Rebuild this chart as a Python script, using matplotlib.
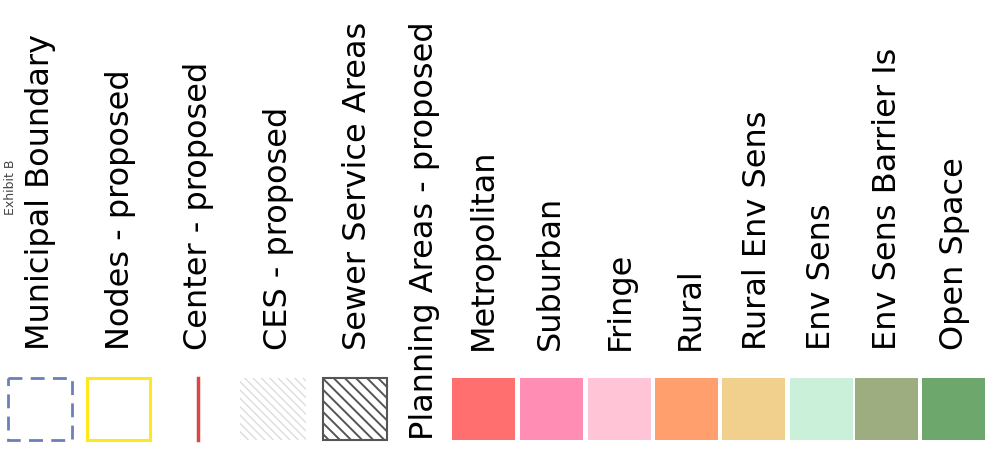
import matplotlib.pyplot as plt
from matplotlib.patches import Rectangle

# legend entries (rotated legend of a planning map)
line_labels = ['Municipal Boundary', 'Nodes - proposed', 'Center - proposed',
               'CES - proposed', 'Sewer Service Areas']
area_title = 'Planning Areas - proposed'
area_labels = ['Metropolitan', 'Suburban', 'Fringe', 'Rural', 'Rural Env Sens',
               'Env Sens', 'Env Sens Barrier Is', 'Open Space']
area_colors = ['#FF6F6F', '#FF8DB4', '#FFC4D6', '#FF9F6E', '#F0D08C',
               '#CBF0DA', '#9DAD80', '#6DA76B']

fig = plt.figure(figsize=(9.95, 4.5), dpi=100)
ax = fig.add_axes([0, 0, 1, 1])
ax.set_xlim(0, 995)
ax.set_ylim(450, 0)
ax.axis('off')

fs = 23
sw_top, sw_h = 378, 62

# top row of symbols
text_x = [40, 120, 198, 278, 358]
sw_x = [8, 87, 0, 240, 323]
for i, lab in enumerate(line_labels):
    ax.text(text_x[i], 350, lab, rotation=90, rotation_mode='anchor',
            ha='left', va='center', fontsize=fs, color='black')

ax.add_patch(Rectangle((sw_x[0], sw_top), 64, sw_h, fill=False,
                       edgecolor='#6A80B8', lw=2, linestyle=(0, (5, 3))))
ax.add_patch(Rectangle((sw_x[1], sw_top), 63, sw_h, fill=False,
                       edgecolor='#FFE820', lw=2.2))
ax.plot([198, 198], [sw_top, sw_top + sw_h], color='#D94848', lw=2.5)
plt.rcParams['hatch.linewidth'] = 1.0
ax.add_patch(Rectangle((sw_x[3], sw_top), 66, sw_h, facecolor='white',
                       edgecolor='#DDDDDD', lw=0, hatch='\\\\\\\\'))
plt.rcParams['hatch.linewidth'] = 1.4
ax.add_patch(Rectangle((sw_x[4], sw_top), 64, sw_h, facecolor='white',
                       edgecolor='#555555', lw=1.5, hatch='\\\\\\'))

ax.text(425, 440, area_title, rotation=90, rotation_mode='anchor',
        ha='left', va='center', fontsize=fs, color='black')

# planning area swatches
area_text_x = [483, 550, 620, 690, 757, 822, 888, 955]
area_sw_x = [452, 520, 588, 655, 722, 790, 855, 922]
for i, lab in enumerate(area_labels):
    ax.add_patch(Rectangle((area_sw_x[i], sw_top), 63, sw_h,
                           facecolor=area_colors[i], edgecolor='none'))
    ax.text(area_text_x[i], 350, lab, rotation=90, rotation_mode='anchor',
            ha='left', va='center', fontsize=fs, color='black')

ax.text(10, 215, 'Exhibit B', rotation=90, rotation_mode='anchor',
        ha='left', va='center', fontsize=9, color='#444444')

fig.savefig('out.png', dpi=100)
